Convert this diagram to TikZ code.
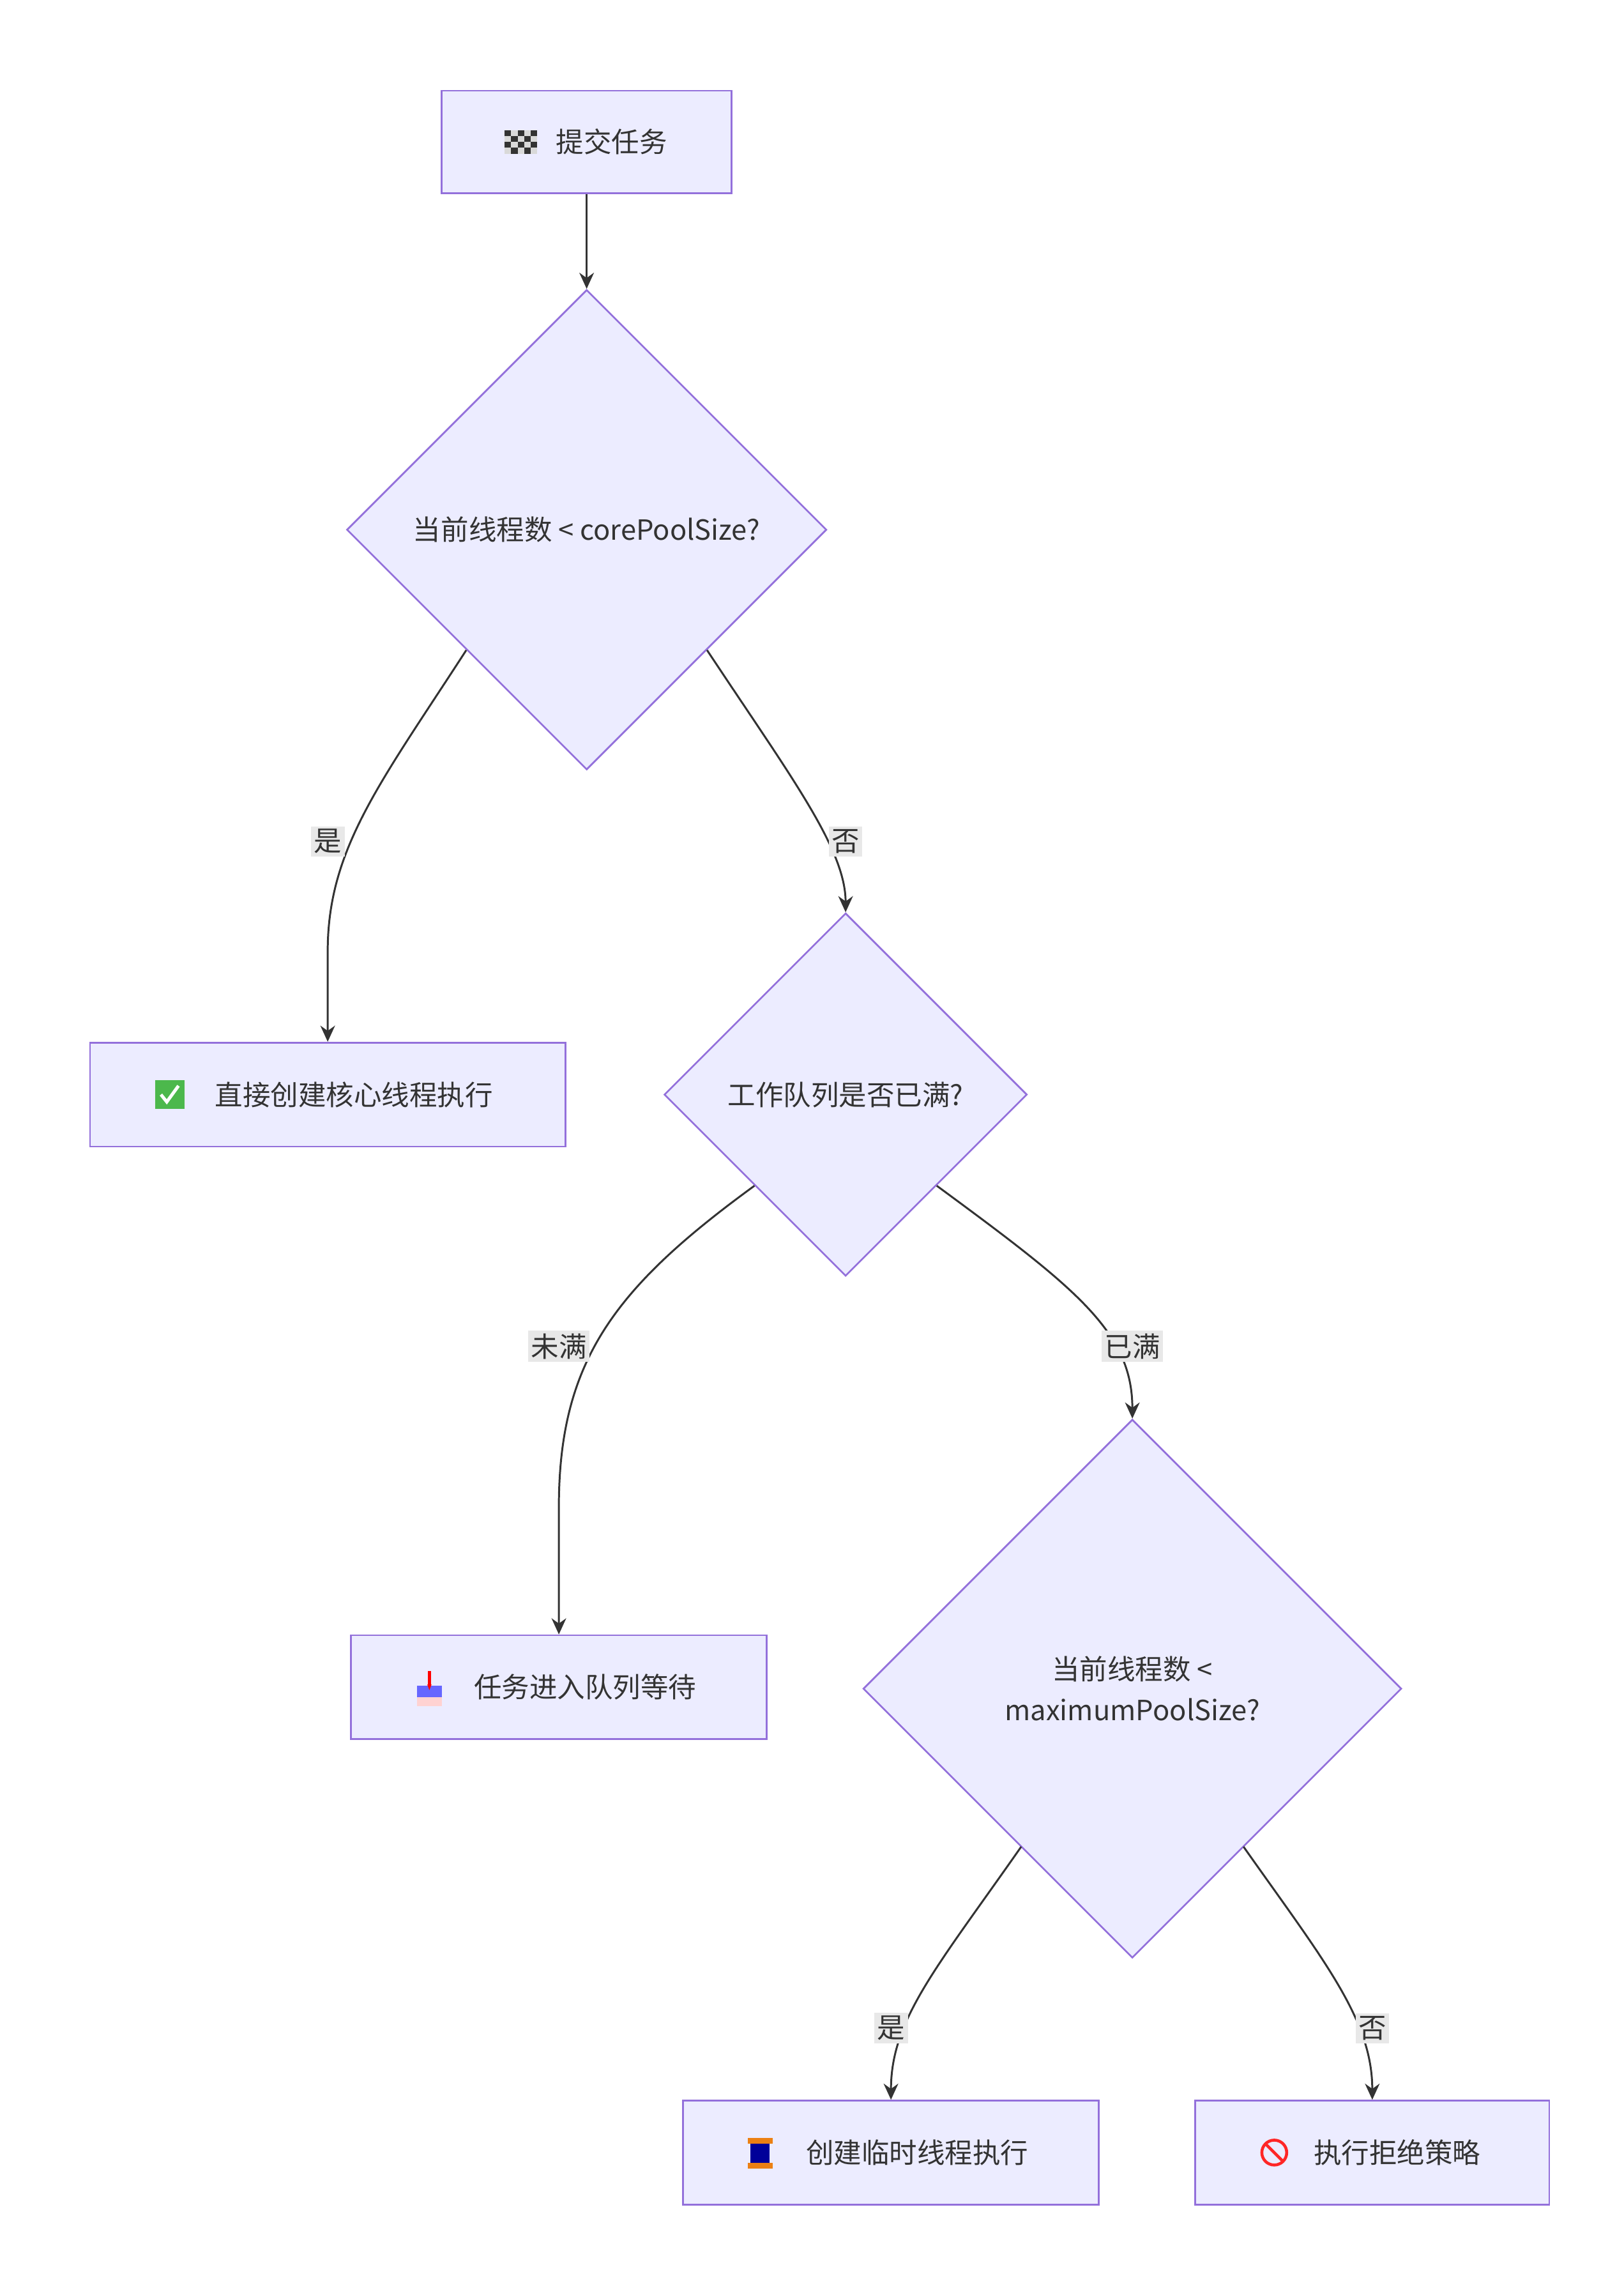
\documentclass[tikz,border=0pt]{standalone}
\usepackage{fontspec}
\setmainfont{Noto Sans CJK SC}
\usetikzlibrary{shapes.geometric,arrows.meta}
\definecolor{nfill}{HTML}{ECECFF}
\definecolor{nline}{HTML}{9370DB}
\definecolor{eline}{HTML}{333333}
\definecolor{lbg}{HTML}{E8E8E8}
\begin{document}
\begin{tikzpicture}[x=1pt,y=-1pt,
  box/.style={draw=nline,fill=nfill,line width=1.2pt,rectangle,inner sep=0pt},
  dia/.style={draw=nline,fill=nfill,line width=1.2pt,diamond,inner sep=0pt,align=center},
  txt/.style={font=\fontsize{19}{28}\selectfont,text=eline},
  edge/.style={draw=eline,line width=1.3pt,-{Stealth[length=11pt,width=10pt]}},
  lab/.style={fill=lbg,inner sep=2pt,font=\fontsize{19}{24}\selectfont,text=eline}]
\useasboundingbox[fill=white] (0,0) rectangle (1110,1554);
% nodes
\node[box,minimum width=198pt,minimum height=70pt] (start) at (401,97) {};
\node[txt] (starttxt) at (418,97) {提交任务};
\node[dia,minimum width=328pt,minimum height=328pt] (d1) at (401,362) {};
\node[txt] at (401,362) {当前线程数 < corePoolSize?};
\node[box,minimum width=325pt,minimum height=71pt] (yes) at (224,748) {};
\node[txt] at (242,748) {直接创建核心线程执行};
\node[dia,minimum width=248pt,minimum height=248pt] (d2) at (578,748) {};
\node[txt] at (578,748) {工作队列是否已满?};
\node[box,minimum width=284pt,minimum height=71pt] (queue) at (382,1153) {};
\node[txt] at (400,1153) {任务进入队列等待};
\node[dia,minimum width=368pt,minimum height=368pt] (d3) at (774,1154) {};
\node[txt,align=center] at (774,1154) {当前线程数 <\\maximumPoolSize?};
\node[box,minimum width=284pt,minimum height=71pt] (temp) at (609,1471) {};
\node[txt] at (627,1471) {创建临时线程执行};
\node[box,minimum width=242pt,minimum height=71pt] (rej) at (938,1471) {};
\node[txt] at (955,1471) {执行拒绝策略};
% icons
\foreach \i in {0,...,4}{\foreach \j in {0,...,3}{
  \pgfmathtruncatemacro\p{mod(\i+\j,2)}
  \ifnum\p=0 \fill[black!80] (345+\i*4.4,89+\j*4) rectangle ++(4.4,4);\else
  \fill[gray!30] (345+\i*4.4,89+\j*4) rectangle ++(4.4,4);\fi}}
\fill[green!60!black!70] (106,738) rectangle (126,758);
\draw[white,line width=2.2pt] (110,748) -- (114,753) -- (122,742);
\fill[blue!60] (285,1152) rectangle (302,1164);
\fill[pink!70] (285,1160) rectangle (302,1166);
\draw[red,line width=2pt,-{Stealth[length=4pt]}] (293.5,1142) -- (293.5,1155);
\fill[blue!60!black] (513,1465) rectangle (526,1478);
\fill[orange!70!brown] (511,1461) rectangle (528,1465);
\fill[orange!70!brown] (511,1478) rectangle (528,1482);
\draw[red!85,line width=2pt] (871,1471) circle (8.5);
\draw[red!85,line width=2pt] (865,1465) -- (877,1477);
% edges
\draw[edge] (start) -- (d1);
\draw[edge] (d1.south west) .. controls (260,535) and (224,580) .. (224,650) -- (yes.north);
\node[lab] at (224,575) {是};
\draw[edge] (d1.south east) .. controls (540,530) and (578,580) .. (d2.north);
\node[lab] at (578,575) {否};
\draw[edge] (d2.south west) .. controls (420,880) and (382,930) .. (382,1030) -- (queue.north);
\node[lab] at (382,920) {未满};
\draw[edge] (d2.south east) .. controls (735,880) and (774,910) .. (d3.north);
\node[lab] at (774,920) {已满};
\draw[edge] (698,1262) .. controls (640,1345) and (609,1380) .. (temp.north);
\node[lab] at (609,1386) {是};
\draw[edge] (850,1262) .. controls (905,1340) and (938,1380) .. (rej.north);
\node[lab] at (938,1386) {否};
\end{tikzpicture}
\end{document}
